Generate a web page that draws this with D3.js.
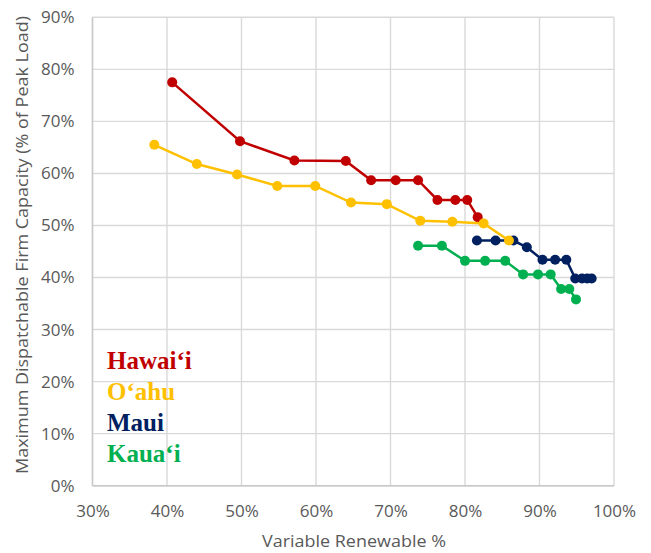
<!DOCTYPE html>
<html>
<head>
<meta charset="utf-8">
<script src="https://cdn.jsdelivr.net/npm/d3@7"></script>
<style>
  html, body { margin: 0; padding: 0; background: #fff; }
  svg { display: block; }
</style>
</head>
<body>
<svg id="chart" width="651" height="553"></svg>
<script>
// ---- data (fractions) ----
const xTicks = [0.3, 0.4, 0.5, 0.6, 0.7, 0.8, 0.9, 1.0];
const yTicks = [0, 0.1, 0.2, 0.3, 0.4, 0.5, 0.6, 0.7, 0.8, 0.9];

const hawaiiX = [0.407, 0.498, 0.571, 0.640, 0.674, 0.707, 0.737, 0.763, 0.787, 0.803, 0.817];
const hawaiiY = [0.775, 0.662, 0.625, 0.624, 0.587, 0.587, 0.587, 0.549, 0.549, 0.549, 0.516];

const oahuX = [0.383, 0.440, 0.494, 0.548, 0.599, 0.647, 0.695, 0.740, 0.783, 0.825, 0.859];
const oahuY = [0.655, 0.618, 0.598, 0.576, 0.576, 0.544, 0.541, 0.509, 0.507, 0.504, 0.471];

const mauiX = [0.816, 0.841, 0.865, 0.883, 0.904, 0.921, 0.936, 0.948, 0.957, 0.964, 0.970];
const mauiY = [0.471, 0.471, 0.471, 0.458, 0.434, 0.434, 0.434, 0.398, 0.398, 0.398, 0.398];

const kauaiX = [0.737, 0.769, 0.800, 0.827, 0.854, 0.878, 0.898, 0.915, 0.929, 0.940, 0.949];
const kauaiY = [0.461, 0.461, 0.432, 0.432, 0.432, 0.406, 0.406, 0.406, 0.378, 0.378, 0.358];

const seriesNames = ["Hawai‘i", "O‘ahu", "Maui", "Kaua‘i"];
const seriesColors = ["#C00000", "#FFC000", "#002060", "#00B050"];

const xTitle = "Variable Renewable %";
const yTitle = "Maximum Dispatchable Firm Capacity (% of Peak Load)";

(function () {
// ---- layout ----
const pLeft = 92.5, pRight = 614, pTop = 17.3, pBottom = 485.7;
const svg = d3.select("#chart");

const x = d3.scaleLinear().domain([0.3, 1.0]).range([pLeft, pRight]);
const y = d3.scaleLinear().domain([0, 0.9]).range([pBottom, pTop]);
const pct = d3.format(".0%");

const gridColor = "#D9D9D9";
const textColor = "#595959";
const fontFam = "'Open Sans', 'DejaVu Sans', sans-serif";

// gridlines
svg.append("g").selectAll("line").data(xTicks).join("line")
  .attr("x1", d => x(d)).attr("x2", d => x(d))
  .attr("y1", pTop).attr("y2", pBottom)
  .attr("stroke", gridColor).attr("stroke-width", 1.4);
svg.append("g").selectAll("line").data(yTicks).join("line")
  .attr("x1", pLeft).attr("x2", pRight)
  .attr("y1", d => y(d)).attr("y2", d => y(d))
  .attr("stroke", gridColor).attr("stroke-width", 1.4);

// axis lines
svg.append("line").attr("x1", pLeft).attr("x2", pLeft).attr("y1", pTop).attr("y2", pBottom)
  .attr("stroke", "#C8C8C8").attr("stroke-width", 1.4);
svg.append("line").attr("x1", pLeft).attr("x2", pRight).attr("y1", pBottom).attr("y2", pBottom)
  .attr("stroke", "#C8C8C8").attr("stroke-width", 1.4);

// axes (labels)
const xAxis = svg.append("g").attr("transform", `translate(0,${pBottom})`)
  .call(d3.axisBottom(x).tickValues(xTicks).tickFormat(pct).tickSize(0).tickPadding(19));
const yAxis = svg.append("g").attr("transform", `translate(${pLeft},0)`)
  .call(d3.axisLeft(y).tickValues(yTicks).tickFormat(pct).tickSize(0).tickPadding(18));
[xAxis, yAxis].forEach(g => {
  g.select(".domain").remove();
  g.selectAll("text").attr("fill", textColor).style("font-family", fontFam).style("font-size", "17px");
});

// titles
svg.append("text").attr("x", 354).attr("y", 547)
  .attr("text-anchor", "middle").attr("fill", textColor)
  .attr("textLength", 184).attr("lengthAdjust", "spacingAndGlyphs")
  .style("font-family", fontFam).style("font-size", "17px").text(xTitle);
svg.append("text").attr("transform", `translate(28,245) rotate(-90)`)
  .attr("text-anchor", "middle").attr("fill", textColor)
  .attr("textLength", 458).attr("lengthAdjust", "spacingAndGlyphs")
  .style("font-family", fontFam).style("font-size", "17px").text(yTitle);

// series
const series = [
  { name: seriesNames[0], color: seriesColors[0], xs: hawaiiX, ys: hawaiiY },
  { name: seriesNames[1], color: seriesColors[1], xs: oahuX, ys: oahuY },
  { name: seriesNames[2], color: seriesColors[2], xs: mauiX, ys: mauiY },
  { name: seriesNames[3], color: seriesColors[3], xs: kauaiX, ys: kauaiY }
];
const drawOrder = [2, 3, 0, 1];
const line = d3.line().x(d => x(d[0])).y(d => y(d[1]));
drawOrder.forEach(i => {
  const s = series[i];
  const pts = s.xs.map((v, j) => [v, s.ys[j]]);
  const g = svg.append("g");
  g.append("path").attr("d", line(pts)).attr("fill", "none")
    .attr("stroke", s.color).attr("stroke-width", 2.5);
  g.selectAll("circle").data(pts).join("circle")
    .attr("cx", d => x(d[0])).attr("cy", d => y(d[1])).attr("r", 5)
    .attr("fill", s.color);
});

// legend
const legendY = [369, 400, 431, 462];
svg.append("g").selectAll("text").data(series).join("text")
  .attr("x", 107).attr("y", (d, i) => legendY[i])
  .attr("fill", d => d.color)
  .style("font-family", "'Liberation Serif', 'Times New Roman', serif")
  .style("font-weight", "bold").style("font-size", "25px")
  .text(d => d.name);
})();
</script>
</body>
</html>
